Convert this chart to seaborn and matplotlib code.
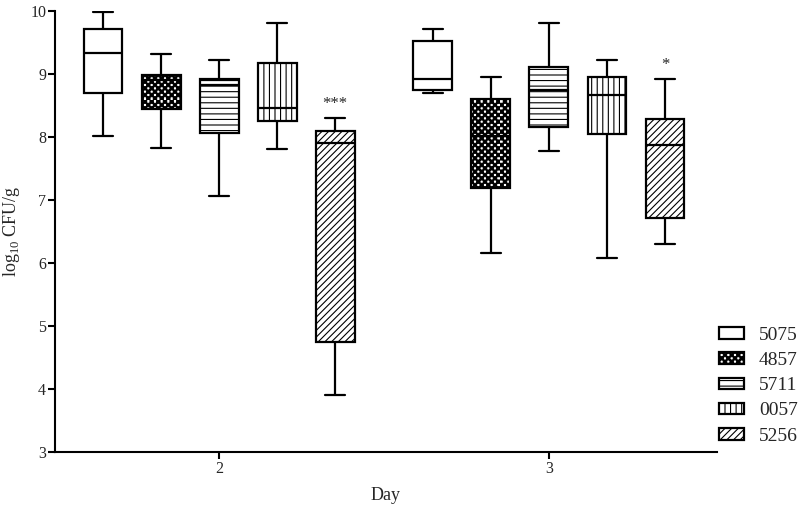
import numpy as np
import pandas as pd
import matplotlib
matplotlib.use('Agg')
import matplotlib.pyplot as plt
import matplotlib.hatch as mhatch
from matplotlib.path import Path
from matplotlib.patches import Patch
import seaborn as sns

# five-number summaries: [min, q1, median, q3, max]
days = ['2', '3']
strains = ['5075', '4857', '5711', '0057', '5256']
s5075 = [[8.02, 8.70, 9.33, 9.71, 9.99], [8.70, 8.75, 8.92, 9.52, 9.71]]
s4857 = [[7.82, 8.45, 8.90, 8.98, 9.32], [6.16, 7.19, 8.02, 8.60, 8.95]]
s5711 = [[7.06, 8.06, 8.82, 8.92, 9.22], [7.78, 8.16, 8.75, 9.11, 9.81]]
s0057 = [[7.81, 8.25, 8.47, 9.18, 9.81], [6.08, 8.05, 8.67, 8.95, 9.22]]
s5256 = [[3.90, 4.75, 7.90, 8.10, 8.30], [6.31, 6.71, 7.87, 8.29, 8.92]]
stars = ['***', '*']
hatches = ['', '*', '---', '|||', '/////']


# checkerboard hatch (replaces the star hatch)
class Checker(mhatch.HatchPatternBase):
    def __init__(self, hatch, density):
        self.n = hatch.count('*') * density * 5
        self.num_vertices = ((self.n * self.n + 1) // 2) * 5

    def set_vertices_and_codes(self, vertices, codes):
        s = 1.0 / self.n
        sq = np.array([[0, 0], [s, 0], [s, s], [0, s], [0, 0]])
        cc = [Path.MOVETO, Path.LINETO, Path.LINETO, Path.LINETO, Path.CLOSEPOLY]
        k = 0
        for i in range(self.n):
            for j in range(self.n):
                if (i + j) % 2 == 0:
                    vertices[k:k + 5] = sq + [i * s, j * s]
                    codes[k:k + 5] = cc
                    k += 5


mhatch._hatch_types = [t for t in mhatch._hatch_types if t is not mhatch.Stars] + [Checker]

rows = []
for name, vals in zip(strains, [s5075, s4857, s5711, s0057, s5256]):
    for d, v in zip(days, vals):
        for x in v:
            rows.append({'Day': d, 'strain': name, 'value': x})
df = pd.DataFrame(rows)

sns.set_style('ticks')
plt.rcParams['font.family'] = ['Liberation Serif', 'DejaVu Serif']
plt.rcParams['mathtext.fontset'] = 'custom'
plt.rcParams['mathtext.rm'] = 'Liberation Serif'
plt.rcParams['hatch.linewidth'] = 0.8

fig = plt.figure(figsize=(8, 5.07), dpi=100)
ax = fig.add_axes([0.069, 0.1085, 0.827, 0.8695])

width = 0.88
sns.boxplot(data=df, x='Day', y='value', hue='strain', order=days, hue_order=strains,
            palette=['white'] * 5, linecolor='black', linewidth=1.6, width=width,
            gap=0.33, whis=(0, 100), legend=False, ax=ax)

# hatch the boxes: sort by x position -> hue index
boxes = sorted(ax.patches, key=lambda p: p.get_path().vertices[:, 0].mean())
for i, p in enumerate(boxes):
    p.set_hatch(hatches[i % 5])
    p.set_edgecolor('black')

# significance marks above the last strain
step = width / 5
for i, (txt, vals) in enumerate(zip(stars, s5256)):
    ax.text(i + 2 * step, vals[4] + 0.1, txt, ha='center', va='bottom', fontsize=12)

ax.set_ylim(3, 10)
ax.set_xlim(-0.497, 1.509)
ax.set_yticks(range(3, 11))
ax.set_xlabel('Day', fontsize=13, labelpad=7)
ax.set_ylabel(r'log$_{\mathrm{10}}$ CFU/g', fontsize=13, labelpad=6)
ax.tick_params(labelsize=11.5, width=1.5, length=5, pad=1.5, color='black')
for sp in ['left', 'bottom']:
    ax.spines[sp].set_linewidth(1.5)
    ax.spines[sp].set_color('black')
sns.despine(ax=ax)

handles = [Patch(facecolor='white', edgecolor='black', linewidth=1.6, hatch=h) for h in hatches]
fig.legend(handles, strains, loc='center left', bbox_to_anchor=(0.899, 0.239),
           frameon=False, fontsize=14, borderpad=0, borderaxespad=0,
           handlelength=1.25, handleheight=0.55, handletextpad=0.8, labelspacing=0.42)

fig.savefig('out.png', dpi=100)
